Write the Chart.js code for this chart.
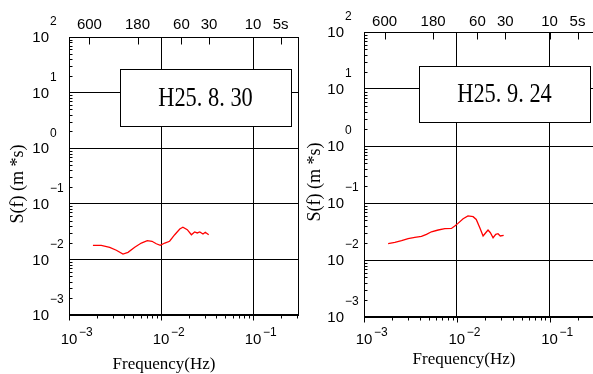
<!DOCTYPE html>
<html>
<head>
<meta charset="utf-8">
<script src="https://cdn.jsdelivr.net/npm/chart.js@4/dist/chart.umd.min.js"></script>
<style>
  body { margin: 0; background: #fff; }
  #wrap { position: relative; width: 593px; height: 374px; overflow: hidden; background: #fff; }
  canvas { position: absolute; top: 0; }
  #c1 { left: 0; }
  #c2 { left: 300px; }
</style>
</head>
<body>
<div id="wrap">
  <canvas id="c1" width="300" height="374"></canvas>
  <canvas id="c2" width="300" height="374"></canvas>
</div>
<script>
// spectrum, left panel (H25.8.30)
const freqA = [0.00182, 0.00224, 0.00277, 0.00327, 0.00386, 0.00438, 0.00518, 0.00611, 0.0071, 0.00798,
  0.00889, 0.00982, 0.011, 0.0124, 0.0141, 0.016, 0.0173, 0.0193, 0.0214, 0.0232, 0.0248, 0.0264, 0.0286, 0.0303, 0.033];
const specA = [0.0179, 0.0179, 0.0165, 0.0146, 0.0125, 0.0134, 0.0165, 0.0197, 0.0217, 0.0212,
  0.0191, 0.0179, 0.0197, 0.0212, 0.0278, 0.0352, 0.0378, 0.0342, 0.0278, 0.0311, 0.0299, 0.0311, 0.0286, 0.0307, 0.0278];

// spectrum, right panel (H25.9.24)
const freqB = [0.00182, 0.00215, 0.00254, 0.00299, 0.00353, 0.00416, 0.00471, 0.00533, 0.0063, 0.00743,
  0.00875, 0.00951, 0.0103, 0.0117, 0.0132, 0.015, 0.0162, 0.0177, 0.0192, 0.0205, 0.0217, 0.023, 0.0246,
  0.0263, 0.0278, 0.0294, 0.032];
const specB = [0.0193, 0.0204, 0.0218, 0.0237, 0.0249, 0.0259, 0.0281, 0.0313, 0.0336, 0.0354,
  0.0358, 0.0395, 0.0439, 0.0531, 0.0592, 0.0575, 0.0515, 0.0369, 0.0264, 0.0301, 0.0336, 0.0301, 0.0246,
  0.0281, 0.0289, 0.0264, 0.027];

const periods = [600, 180, 60, 30, 10, 5];
const periodLabels = ['600', '180', '60', '30', '10', '5s'];
const xExps = [-3, -2, -1];
const yExps = [2, 1, 0, -1, -2, -3];
const xTitle = 'Frequency(Hz)';
const yTitle = 'S(f) (m *s)';

const SANS = '"Liberation Sans", Arial, sans-serif';
const SERIF = '"Liberation Serif", "Times New Roman", serif';

function expText(e) {
  return e < 0 ? '\u2212' + (-e) : String(e);
}

function makeDeco(cfg) {
  return {
    id: 'deco',
    afterDraw(chart) {
      const { ctx, chartArea: a } = chart;
      const x = chart.scales.x, y = chart.scales.y;
      const L = Math.round(a.left) + 0.5, R = Math.round(a.right) - 0.5;
      const T = Math.round(a.top) + 0.5, B = Math.round(a.bottom) - 0.5;
      ctx.save();
      ctx.strokeStyle = '#000';
      ctx.lineWidth = 1;
      ctx.beginPath();
      // bottom minor ticks (outside)
      for (let e = -3; e <= -1; e++) {
        for (let k = 1; k <= 9; k++) {
          const v = k * Math.pow(10, e);
          if (v > x.max * 1.0001) continue;
          const px = Math.round(x.getPixelForValue(v)) + 0.5;
          ctx.moveTo(px, B);
          ctx.lineTo(px, B + (k === 1 ? 6 : 4));
        }
      }
      // left minor ticks (inside)
      for (let e = -3; e <= 1; e++) {
        for (let k = 2; k <= 9; k++) {
          const py = Math.round(y.getPixelForValue(k * Math.pow(10, e))) + 0.5;
          ctx.moveTo(L, py);
          ctx.lineTo(L + 3, py);
        }
      }
      // top period ticks
      periods.forEach(p => {
        const px = Math.round(x.getPixelForValue(1 / p)) + 0.5;
        ctx.moveTo(px, T);
        ctx.lineTo(px, T + 7);
      });
      ctx.stroke();
      ctx.strokeRect(L, T, R - L, B - T);

      ctx.fillStyle = '#000';
      ctx.textBaseline = 'middle';
      ctx.font = '15px ' + SANS;
      ctx.textAlign = 'center';
      periods.forEach((p, i) => {
        ctx.fillText(periodLabels[i], x.getPixelForValue(1 / p), a.top - cfg.topDy);
      });

      yExps.forEach(e => {
        const py = y.getPixelForValue(Math.pow(10, e));
        ctx.font = '15px ' + SANS;
        ctx.textAlign = 'right';
        ctx.fillText('10', a.left - 20, py + 1);
        ctx.font = '12px ' + SANS;
        ctx.textAlign = 'left';
        ctx.fillText(expText(e), a.left - 19, py - 15);
      });

      xExps.forEach(e => {
        const px = x.getPixelForValue(Math.pow(10, e));
        ctx.font = '15px ' + SANS;
        ctx.textAlign = 'center';
        ctx.fillText('10', px, a.bottom + cfg.xDy);
        ctx.font = '12px ' + SANS;
        ctx.textAlign = 'left';
        ctx.fillText(expText(e), px + 10, a.bottom + cfg.xDy - 7);
      });

      // axis titles
      ctx.font = '17px ' + SERIF;
      ctx.textAlign = 'center';
      ctx.fillText(xTitle, cfg.xTitle[0], cfg.xTitle[1]);
      ctx.save();
      ctx.translate(cfg.yTitle[0], cfg.yTitle[1]);
      ctx.rotate(-Math.PI / 2);
      ctx.font = '18px ' + SERIF;
      ctx.fillText(yTitle, 0, 0);
      ctx.restore();

      // date box
      const [bx0, by0, bx1, by1] = cfg.box;
      ctx.fillStyle = '#fff';
      ctx.fillRect(bx0, by0, bx1 - bx0, by1 - by0);
      ctx.strokeRect(bx0 + 0.5, by0 + 0.5, bx1 - bx0, by1 - by0);
      ctx.fillStyle = '#000';
      ctx.font = '28px ' + SERIF;
      ctx.save();
      ctx.translate((bx0 + bx1) / 2, (by0 + by1) / 2 + 1);
      ctx.scale(0.8, 1);
      ctx.fillText(cfg.label, 0, 0);
      ctx.restore();

      ctx.restore();
    }
  };
}

function makeChart(id, freqs, vals, pad, cfg) {
  return new Chart(document.getElementById(id), {
    type: 'line',
    data: {
      datasets: [{
        data: freqs.map((f, i) => ({ x: f, y: vals[i] })),
        borderColor: '#ff0000',
        borderWidth: 1.3,
        pointRadius: 0,
        tension: 0,
        fill: false
      }]
    },
    options: {
      responsive: false,
      animation: false,
      devicePixelRatio: 1,
      layout: { padding: pad },
      plugins: { legend: { display: false }, tooltip: { enabled: false } },
      scales: {
        x: {
          type: 'logarithmic',
          min: 0.001,
          max: Math.pow(10, -0.5),
          afterBuildTicks: s => { s.ticks = xExps.map(e => ({ value: Math.pow(10, e) })); },
          afterFit: s => { s.height = 0; },
          ticks: { display: false },
          grid: { color: '#000', drawTicks: false },
          border: { display: false }
        },
        y: {
          type: 'logarithmic',
          min: 0.001,
          max: 100,
          afterBuildTicks: s => { s.ticks = yExps.map(e => ({ value: Math.pow(10, e) })); },
          afterFit: s => { s.width = 0; },
          ticks: { display: false },
          grid: { color: '#000', drawTicks: false },
          border: { display: false }
        }
      }
    },
    plugins: [makeDeco(cfg)]
  });
}

makeChart('c1', freqA, specA, { left: 69, right: 1, top: 37, bottom: 59 }, {
  label: 'H25. 8. 30', box: [120, 69, 291, 126], topDy: 12, xDy: 25,
  xTitle: [164, 365], yTitle: [18, 184]
});
makeChart('c2', freqB, specB, { left: 64, right: 4, top: 32, bottom: 57 }, {
  label: 'H25. 9. 24', box: [119, 66, 290, 122], topDy: 10, xDy: 23,
  xTitle: [164, 360], yTitle: [15, 182]
});
</script>
</body>
</html>
